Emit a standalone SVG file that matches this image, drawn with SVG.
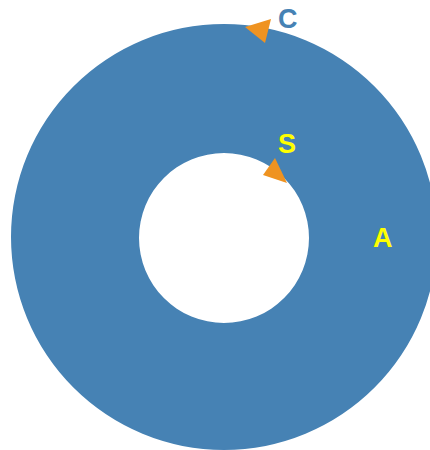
<svg xmlns="http://www.w3.org/2000/svg" width="430" height="450" viewBox="0 0 430 450">
<style>
.ring{fill:#4682b4;fill-rule:evenodd}
.arrow{fill:#ef9321}
.lbl{font-family:"Liberation Sans",Arial,sans-serif;font-weight:bold;font-size:27px}
</style>
<rect width="430" height="450" fill="#ffffff"/>
<g id="ring">
<path class="ring" d="M11,237 A213,213 0 1,1 437,237 A213,213 0 1,1 11,237 Z M139,238 A85,85 0 1,0 309,238 A85,85 0 1,0 139,238 Z"/>
</g>
<g id="connectors">
<polygon class="arrow" points="245,27 271,19 265,43"/>
<polygon class="arrow" points="263,175 275,158 287,183"/>
</g>
<g id="label-C"><text class="lbl" x="278" y="28" fill="#4682b4">C</text></g>
<g id="label-S"><text class="lbl" x="278" y="153" fill="#ffff00">S</text></g>
<g id="label-A"><text class="lbl" x="373" y="247" fill="#ffff00">A</text></g>
</svg>
